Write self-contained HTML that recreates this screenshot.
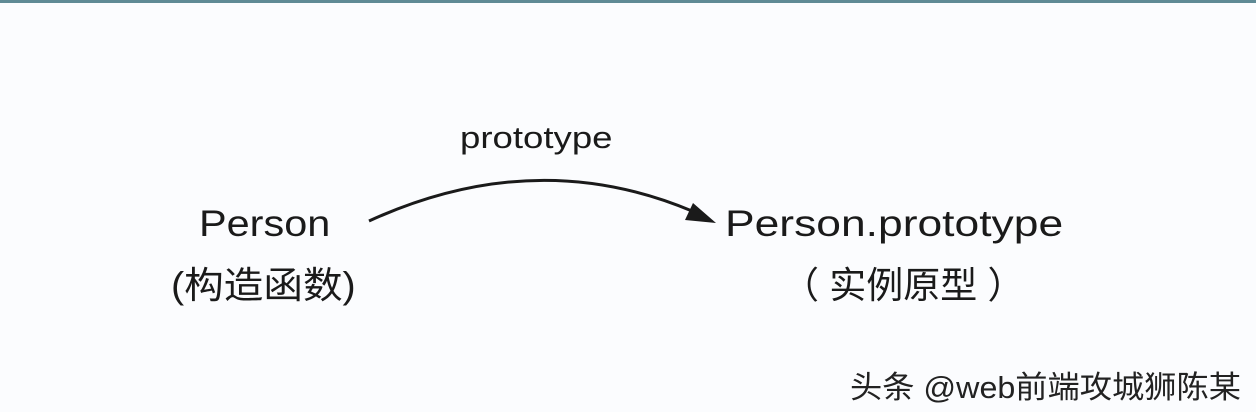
<!DOCTYPE html>
<html><head><meta charset="utf-8"><style>
html,body{margin:0;padding:0;width:1256px;height:412px;overflow:hidden;background:#fbfcfe;}
.t{position:absolute;font-family:"Liberation Sans","Noto Sans CJK SC",sans-serif;color:#1a1a1a;white-space:nowrap;transform-origin:0 0;}
</style></head><body>
<div style="position:absolute;left:0;top:0;width:1256px;height:3px;background:#5f8a95"></div>
<div class="t" style="left:460px;top:120px;font-size:31px;transform:scaleX(1.18);">prototype</div>
<div class="t" style="left:199px;top:203px;font-size:37px;transform:scaleX(1.12);">Person</div>
<div class="t" style="left:171px;top:255px;font-size:37px;transform:scaleX(1.07);">(构造函数)</div>
<div class="t" style="left:725px;top:203px;font-size:37px;transform:scaleX(1.2);">Person.prototype</div>
<div class="t" style="left:782px;top:255px;font-size:37px;">（&nbsp;实例原型&nbsp;）</div>
<div class="t" style="left:850px;top:362px;font-size:31px;color:#222;transform:scaleX(1.04);">头条 @web前端攻城狮陈某</div>
<svg style="position:absolute;left:0;top:0" width="1256" height="412">
<path d="M369,221 Q535,145 692,211" fill="none" stroke="#1a1a1a" stroke-width="3"/>
<polygon points="716,223 685,220 693,203" fill="#1a1a1a"/>
</svg>
</body></html>
